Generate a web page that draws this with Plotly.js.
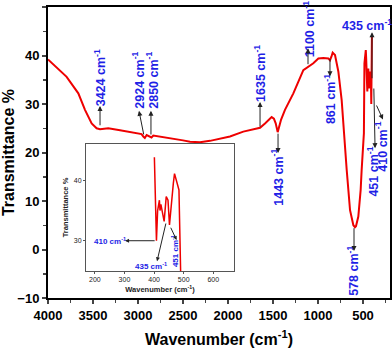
<!DOCTYPE html>
<html>
<head>
<meta charset="utf-8">
<script src="https://cdn.plot.ly/plotly-3.0.1.min.js"></script>
<style>
  body { margin: 0; background: #fff; }
  #plot { width: 392px; height: 348px; }
</style>
</head>
<body>
<div id="plot"></div>
<script>
  // FTIR spectrum (wavenumber in cm-1, transmittance in %)
  var wavenumber = [4000, 3900, 3793, 3663, 3589, 3515, 3460, 3422, 3330, 3200, 3015, 2960, 2941, 2924, 2904, 2867, 2850, 2830, 2681, 2500, 2422, 2311, 2200, 1978, 1830, 1719, 1644, 1589, 1515, 1490, 1470, 1448, 1430, 1410, 1367, 1274, 1163, 1107, 1052, 996, 941, 885, 867, 850, 837, 811, 774, 737, 700, 681, 644, 607, 589, 578, 552, 526, 515, 500, 490, 484, 477, 469, 465, 457, 452, 447, 441, 434, 429, 423, 420, 418, 412, 408, 401];
  var transmittance = [39.2, 37.5, 35.6, 32.2, 28.8, 26.0, 25.0, 24.8, 25.0, 24.6, 24.1, 23.8, 23.3, 23.0, 23.6, 23.3, 23.1, 23.5, 23.1, 22.5, 22.2, 22.1, 22.4, 23.3, 24.3, 24.8, 25.1, 26.0, 27.3, 27.0, 26.0, 24.2, 25.5, 26.8, 28.8, 32.2, 37.0, 37.7, 38.4, 39.4, 39.5, 39.4, 39.0, 39.8, 40.6, 40.1, 36.7, 30.8, 19.8, 16.4, 8.1, 5.0, 4.6, 4.8, 6.8, 12.3, 16.4, 22.0, 24.0, 38.4, 39.5, 41.1, 39.5, 35.9, 32.6, 36.7, 37.3, 33.2, 34.6, 36.0, 35.0, 36.7, 35.0, 30.0, 43.8];

  var xTicks = [4000, 3500, 3000, 2500, 2000, 1500, 1000, 500];
  var yTicks = [-10, 0, 10, 20, 30, 40, 50];
  var insetXTicks = [200, 300, 400, 500, 600];
  var insetYTicks = [30, 40];

  // main peak labels: [text, text x, text y, angle, arrow tail x, tail y, head x, head y]
  var peakLabels = [
    ["3424", 3422, 35.3, -90, 3422, 25.3, 3422, 29.6],
    ["2924", 3000, 34.8, -90, 2933, 23.4, 2989, 28.6],
    ["2850", 2844, 34.8, -90, 2856, 23.4, 2856, 28.6],
    ["1635", 1644, 36.2, -90, 1644, 25.0, 1644, 30.4],
    ["1443", 1455, 14.8, -90, 1444, 24.2, 1444, 19.9],
    ["1100", 1100, 45.4, -90, 1111, 37.9, 1111, 41.5],
    ["861", 867, 31.0, -90, 867, 39.6, 867, 35.7],
    ["578", 611, -4.4, -90, 600, 4.7, 600, -0.3],
    ["435", 460, 46.3, 0, 400, 35.0, 400, 44.8],
    ["451", 392, 16.0, -90, 380, 33.5, 366, 20.9],
    ["410", 300, 21.2, -90, 357, 30.0, 278, 26.8]
  ];

  // inset labels: [text, text x, text y, angle, tail x, tail y, head x, head y]
  var insetLabels = [
    ["410", 252, 30.0, 0, 407, 30.0, 302, 30.0],
    ["435", 388, 25.8, 0, 441, 33.1, 410, 26.6],
    ["451", 471, 28.3, -90, 454, 32.4, 476, 30.1]
  ];

  var blue = "#1f1fe6";
  var annotations = [];
  peakLabels.forEach(function (p) {
    annotations.push({
      xref: "x", yref: "y", x: p[1], y: p[2], text: p[0] + " cm<sup>-1</sup>",
      textangle: p[3], showarrow: false,
      font: { family: "Liberation Sans, Arial", size: 12.5, color: blue, weight: "bold" }
    });
    annotations.push({
      xref: "x", yref: "y", axref: "x", ayref: "y",
      x: p[6], y: p[7], ax: p[4], ay: p[5], text: "",
      showarrow: true, arrowhead: 2, arrowsize: 1, arrowwidth: 1, arrowcolor: "#222"
    });
  });
  insetLabels.forEach(function (p) {
    annotations.push({
      xref: "x2", yref: "y2", x: p[1], y: p[2], text: p[0] + " cm<sup>-1</sup>",
      textangle: p[3], showarrow: false,
      font: { family: "Liberation Sans, Arial", size: 8, color: blue, weight: "bold" }
    });
    annotations.push({
      xref: "x2", yref: "y2", axref: "x2", ayref: "y2",
      x: p[6], y: p[7], ax: p[4], ay: p[5], text: "",
      showarrow: true, arrowhead: 2, arrowsize: 0.8, arrowwidth: 1, arrowcolor: "#222"
    });
  });

  var traceMain = {
    x: wavenumber, y: transmittance, type: "scatter", mode: "lines",
    line: { color: "#ee0000", width: 2 }, xaxis: "x", yaxis: "y", hoverinfo: "skip"
  };
  var traceInset = {
    x: wavenumber, y: transmittance, type: "scatter", mode: "lines",
    line: { color: "#ee0000", width: 1.5 }, xaxis: "x2", yaxis: "y2", hoverinfo: "skip"
  };

  var tickFont = { family: "Liberation Sans, Arial", size: 13, color: "#000", weight: "bold" };
  var titleFont = { family: "Liberation Sans, Arial", size: 16, color: "#000", weight: "bold" };
  var smallFont = { family: "Liberation Sans, Arial", size: 7, color: "#222" };
  var smallTitle = { family: "Liberation Sans, Arial", size: 7.5, color: "#222", weight: "bold" };

  var layout = {
    width: 392, height: 348,
    margin: { l: 48, r: 2, t: 7, b: 50 },
    paper_bgcolor: "#fff", plot_bgcolor: "#fff",
    showlegend: false,
    xaxis: {
      range: [4000, 200], tickvals: xTicks, ticks: "outside", ticklen: 4, tickwidth: 2,
      minor: { dtick: 250, ticks: "outside", ticklen: 3, tickwidth: 1.5, tick0: 0 },
      showline: true, linewidth: 2, linecolor: "#000", mirror: true,
      showgrid: false, zeroline: false, tickfont: tickFont,
      title: { text: "Wavenumber (cm<sup>-1</sup>)", font: titleFont, standoff: 14 },
      automargin: false
    },
    yaxis: {
      range: [-10, 50], tickvals: yTicks, ticks: "outside", ticklen: 4, tickwidth: 2,
      minor: { dtick: 5, ticks: "outside", ticklen: 3, tickwidth: 1.5 },
      showline: true, linewidth: 2, linecolor: "#000", mirror: true,
      showgrid: false, zeroline: false, tickfont: tickFont,
      title: { text: "Transmittance %", font: titleFont, standoff: 6 },
      automargin: false
    },
    xaxis2: {
      domain: [0.111, 0.544], anchor: "y2", range: [170, 670], tickvals: insetXTicks,
      ticks: "outside", ticklen: 2, tickwidth: 1, tickcolor: "#555",
      showline: true, linewidth: 1, linecolor: "#555", mirror: true,
      showgrid: false, zeroline: false, tickfont: smallFont,
      title: { text: "Wavenumber (cm<sup>-1</sup>)", font: smallTitle, standoff: 4 }
    },
    yaxis2: {
      domain: [0.093, 0.529], anchor: "x2", range: [25, 46], tickvals: insetYTicks,
      ticks: "outside", ticklen: 2, tickwidth: 1, tickcolor: "#555",
      showline: true, linewidth: 1, linecolor: "#555", mirror: true,
      showgrid: false, zeroline: false, tickfont: smallFont,
      title: { text: "Transmittance %", font: smallTitle, standoff: 4 }
    },
    annotations: annotations
  };

  Plotly.newPlot("plot", [traceMain, traceInset], layout, { staticPlot: true });
</script>
</body>
</html>
